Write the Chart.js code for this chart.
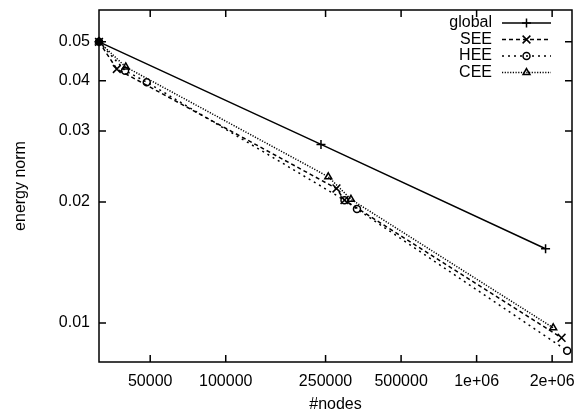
<!DOCTYPE html>
<html><head><meta charset="utf-8">
<script src="https://cdn.jsdelivr.net/npm/chart.js@4/dist/chart.umd.min.js"></script>
<style>html,body{margin:0;padding:0;background:#fff;}#wrap{width:579px;height:414px;}</style>
</head><body><div id="wrap"><canvas id="c" width="579" height="414"></canvas></div>
<script>
// ---- data ----
const seriesNames = ['global', 'SEE', 'HEE', 'CEE'];
const globalNodes = [31250, 239700, 1883000];
const globalNorm  = [0.0500, 0.0278, 0.0153];
const seeNodes = [31250, 36800, 276300, 297400, 2181000];
const seeNorm  = [0.0500, 0.0428, 0.0216, 0.0202, 0.00919];
const heeNodes = [31250, 39700, 48440, 297400, 333500, 2296000];
const heeNorm  = [0.0500, 0.0424, 0.0397, 0.0202, 0.0192, 0.00853];
const ceeNodes = [31250, 39950, 256300, 315600, 2020000];
const ceeNorm  = [0.0500, 0.0433, 0.0231, 0.0203, 0.00973];
const xTickValues = [50000, 100000, 250000, 500000, 1000000, 2000000];
const xTickLabels = ['50000', '100000', '250000', '500000', '1e+06', '2e+06'];
const yTickValues = [0.01, 0.02, 0.03, 0.04, 0.05];
const yTickLabels = ['0.01', '0.02', '0.03', '0.04', '0.05'];
const xTitle = '#nodes';
const yTitle = 'energy norm';

const FONT = {family: "'Liberation Sans', Arial, Helvetica, sans-serif", size: 16};
const pts = (xs, ys) => xs.map((x, i) => ({x: x, y: ys[i]}));

function ds(label, xs, ys, dash, style, radius, firstFilled) {
  return {
    label, data: pts(xs, ys), showLine: true,
    borderColor: '#000', backgroundColor: 'rgba(0,0,0,0)',
    borderWidth: 1.5, borderDash: dash,
    pointStyle: style, pointRadius: radius, pointBorderWidth: 1.5,
    pointBorderColor: '#000',
    pointBackgroundColor: xs.map((_, i) => (firstFilled && i === 0) ? '#000' : 'rgba(0,0,0,0)'),
    clip: false, tension: 0
  };
}

const frameAndTicks = {
  id: 'frameAndTicks',
  beforeDatasetsDraw(chart) {
    const {ctx, chartArea: a, scales} = chart;
    ctx.save();
    ctx.strokeStyle = '#000';
    ctx.lineWidth = 1.5;
    ctx.strokeRect(a.left, a.top, a.right - a.left, a.bottom - a.top);
    const L = 7;
    ctx.beginPath();
    scales.x.ticks.forEach(t => {
      const px = scales.x.getPixelForValue(t.value);
      ctx.moveTo(px, a.bottom); ctx.lineTo(px, a.bottom - L);
      ctx.moveTo(px, a.top); ctx.lineTo(px, a.top + L);
    });
    scales.y.ticks.forEach(t => {
      const py = scales.y.getPixelForValue(t.value);
      ctx.moveTo(a.left, py); ctx.lineTo(a.left + L, py);
      ctx.moveTo(a.right, py); ctx.lineTo(a.right - L, py);
    });
    ctx.stroke();
    ctx.restore();
  },
  afterDraw(chart) {
    // gnuplot-style key inside the plot, top right
    const {ctx, chartArea: a} = chart;
    ctx.save();
    ctx.font = FONT.size + 'px ' + FONT.family;
    ctx.textAlign = 'right';
    ctx.textBaseline = 'middle';
    const textRight = a.right - 80, x0 = a.right - 70, x1 = a.right - 21;
    chart.data.datasets.forEach((d, i) => {
      const y = a.top + 13 + i * 16.5;
      ctx.fillStyle = '#000';
      ctx.fillText(d.label, textRight, y);
      ctx.strokeStyle = '#000';
      ctx.lineWidth = d.borderWidth;
      ctx.setLineDash(d.borderDash || []);
      ctx.beginPath(); ctx.moveTo(x0, y); ctx.lineTo(x1, y); ctx.stroke();
      ctx.setLineDash([]);
      ctx.lineWidth = d.pointBorderWidth;
      ctx.fillStyle = 'rgba(0,0,0,0)';
      Chart.helpers.drawPoint(ctx, {pointStyle: d.pointStyle, radius: d.pointRadius, rotation: 0, borderWidth: d.pointBorderWidth}, (x0 + x1) / 2, y);
    });
    ctx.restore();
  }
};

new Chart(document.getElementById('c'), {
  type: 'scatter',
  data: {
    datasets: [
      ds(seriesNames[0], globalNodes, globalNorm, [], 'cross', 4.5, false),
      ds(seriesNames[1], seeNodes, seeNorm, [4, 3], 'crossRot', 5.5, false),
      ds(seriesNames[2], heeNodes, heeNorm, [2, 4], 'circle', 3.5, true),
      ds(seriesNames[3], ceeNodes, ceeNorm, [1.2, 1.5], 'triangle', 4, true)
    ]
  },
  options: {
    responsive: false, animation: false, devicePixelRatio: 1,
    layout: {padding: {left: 0, top: 10, right: 6, bottom: 0}},
    plugins: {legend: {display: false}, tooltip: {enabled: false}},
    scales: {
      x: {
        type: 'logarithmic', position: 'bottom', min: 31250, max: 2400000,
        afterBuildTicks: s => { s.ticks = xTickValues.map(v => ({value: v})); },
        afterFit: s => { s.height = 52; s.paddingLeft = 0; s.paddingRight = 0; },
        ticks: {autoSkip: false, maxRotation: 0, padding: 2, color: '#000', font: FONT,
          callback: v => { const i = xTickValues.indexOf(v); return i >= 0 ? xTickLabels[i] : ''; }},
        grid: {display: false}, border: {display: false},
        title: {display: true, text: xTitle, color: '#000', font: FONT, padding: {top: 2, bottom: 0}}
      },
      y: {
        type: 'logarithmic', position: 'left', min: 0.008, max: 0.06,
        afterBuildTicks: s => { s.ticks = yTickValues.map(v => ({value: v})); },
        afterFit: s => { s.width = 99; s.paddingTop = 0; s.paddingBottom = 0; },
        ticks: {autoSkip: false, padding: 1, color: '#000', font: FONT,
          callback: v => { const i = yTickValues.indexOf(v); return i >= 0 ? yTickLabels[i] : ''; }},
        grid: {display: false}, border: {display: false},
        title: {display: true, text: yTitle, color: '#000', font: FONT, padding: {top: 11, bottom: 2}}
      }
    }
  },
  plugins: [frameAndTicks]
});
</script></body></html>
